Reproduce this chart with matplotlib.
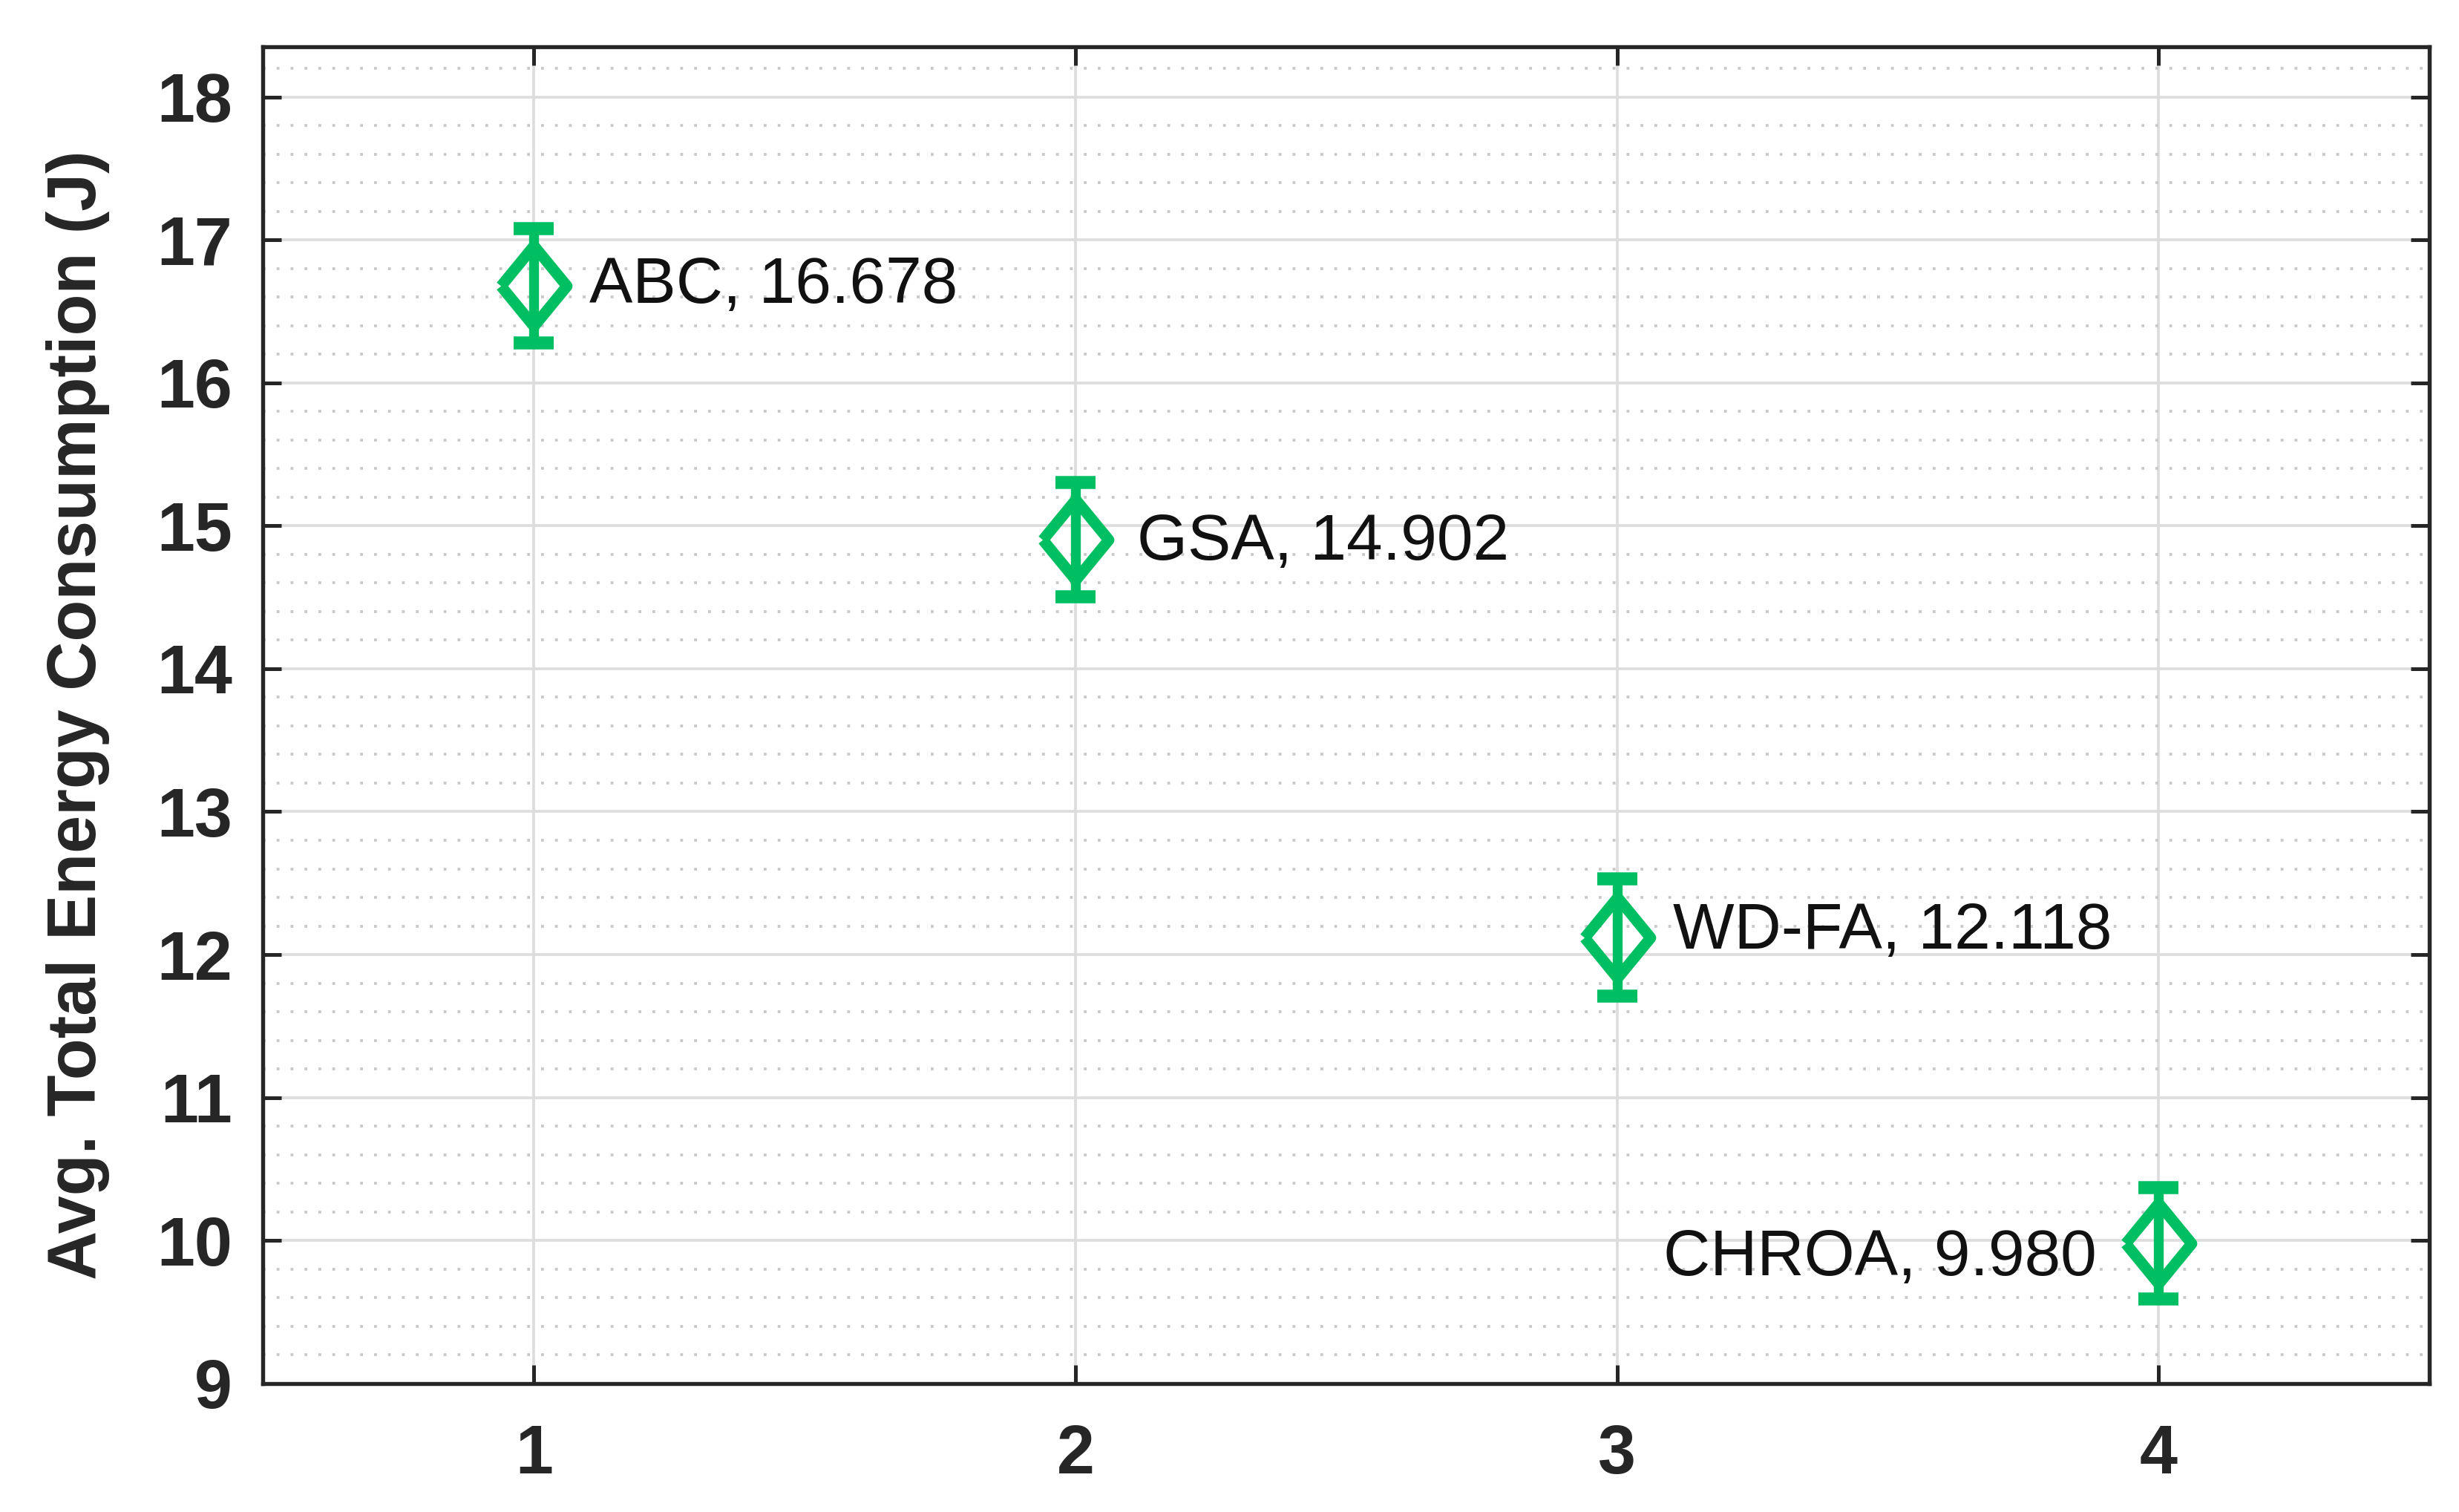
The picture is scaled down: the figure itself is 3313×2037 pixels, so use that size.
import matplotlib
matplotlib.use("Agg")
import matplotlib.pyplot as plt
from matplotlib.ticker import MultipleLocator

plt.rcParams['font.family'] = ['Liberation Sans', 'DejaVu Sans']

algorithms = ["ABC", "GSA", "WD-FA", "CHROA"]
positions = [1, 2, 3, 4]
energy = [16.678, 14.902, 12.118, 9.980]
errors = [0.40, 0.40, 0.41, 0.39]

green = '#00BF63'

fig = plt.figure(figsize=(3313 / 300, 2037 / 300), dpi=300)
ax = fig.add_axes([0.107, 0.085, 0.881, 0.884])

diamond = [(-0.41, 0), (0, 0.5), (0.41, 0), (0, -0.5), (-0.41, 0)]
ax.errorbar(positions, energy, yerr=errors, fmt='none', ecolor=green,
            elinewidth=3.2, capsize=6.5, capthick=4.2, zorder=3)
ax.plot(positions, energy, linestyle='none', marker=diamond, markersize=26,
        markerfacecolor='none', markeredgecolor=green, markeredgewidth=3.6,
        zorder=4)

# label offsets (points) next to each marker
offsets = [(18, 0), (20, -1), (18, 2), (-20, -5)]
for i, (name, val) in enumerate(zip(algorithms, energy)):
    label = f"{name}, {val:.3f}"
    ha = 'right' if offsets[i][0] < 0 else 'left'
    ax.annotate(label, (positions[i], val), xytext=offsets[i],
                textcoords='offset points', ha=ha, va='center',
                fontsize=21, color='#111111')

ax.set_xlim(0.5, 4.5)
ax.set_ylim(9, 18.35)
ax.set_xticks(positions)
ax.set_yticks(range(9, 19))
ax.yaxis.set_minor_locator(MultipleLocator(0.2))

ax.grid(True, which='major', color='#dddddd', linewidth=0.9, zorder=0)
ax.grid(True, which='minor', axis='y', color='#c8c8c8', linestyle=(0, (1, 4)),
        linewidth=0.9, zorder=0)
ax.set_axisbelow(True)

ax.tick_params(which='major', direction='in', length=6, width=1.2,
               top=True, right=True, colors='#262626', labelsize=22)
ax.tick_params(axis='x', pad=13)
ax.tick_params(axis='y', pad=10)
ax.tick_params(which='minor', length=0)
for lbl in ax.get_xticklabels() + ax.get_yticklabels():
    lbl.set_fontweight('bold')

for sp in ax.spines.values():
    sp.set_linewidth(1.3)
    sp.set_color('#262626')

ax.set_ylabel('Avg. Total Energy Consumption (J)', fontsize=22,
              fontweight='bold', color='#262626', labelpad=15)

fig.savefig('out.png', dpi=300)
